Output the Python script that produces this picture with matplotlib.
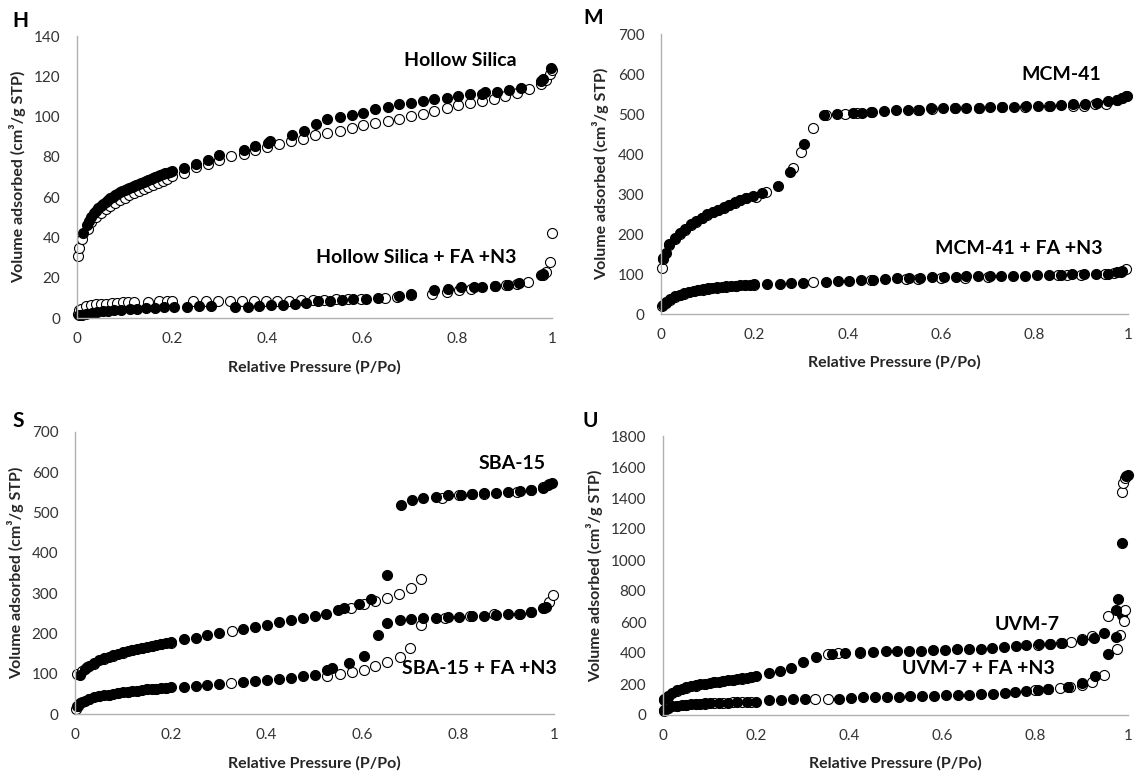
import matplotlib
matplotlib.use("Agg")
import matplotlib.pyplot as plt

plt.rcParams['font.family'] = ['Lato', 'DejaVu Sans']

# ---------------- Panel H : Hollow Silica ----------------
H_top_ads_x = [0.012,0.02,0.025,0.03,0.035,0.04,0.045,0.05,0.055,0.06,0.065,0.07,0.075,0.08,0.085,0.09,0.095,0.10,
               0.105,0.11,0.115,0.12,0.125,0.13,0.135,0.14,0.145,0.15,0.155,0.16,0.165,0.17,0.175,0.18,0.185,0.19,0.195,0.20,
               0.226,0.251,0.276,0.299,0.351,0.375,0.403,0.407,0.452,0.477,0.504,0.527,0.553,0.578,0.603,0.628,0.654,0.678,
               0.703,0.728,0.752,0.778,0.803,0.828,0.852,0.858,0.885,0.91,0.935,0.977,0.981,0.998]
H_top_ads_y = [42,46,48,50,52,53,54.5,55.5,56.5,57.5,58.5,59.5,60,61,61.5,62.5,63,63.5,
               64,64.5,65,65.5,66,66.5,67,67.5,68,68.5,69,69.5,70,70.5,71,71.5,72,72.2,72.5,73,
               74.7,76.7,78.6,80.8,83.3,85.3,87,87.8,91,92.7,96.5,98.7,100,101,102,104,104.8,106,
               106.8,107.6,108.6,109.4,110,111,111.4,112,112.4,113.4,114.4,117.5,118.5,124]
H_top_des_x = [0.0015,0.004,0.011,0.023,0.03,0.04,0.05,0.06,0.07,0.08,0.09,0.10,0.11,0.12,0.13,0.14,0.15,0.16,0.17,0.18,0.19,0.20,
               0.226,0.251,0.276,0.299,0.325,0.351,0.375,0.401,0.426,0.451,0.476,0.502,0.527,0.553,0.578,0.603,0.628,0.654,
               0.678,0.703,0.728,0.752,0.778,0.803,0.828,0.852,0.878,0.902,0.927,0.952,0.976,0.987,0.996,1.0]
H_top_des_y = [30.6,34.8,39,44.4,47.5,50,52,54,55.5,57,58.5,59.5,61,62,63,64,65,66,67,68,69,70.5,
               72,75,76.7,78.3,80.5,81.6,83.6,85,86.6,87.7,89,90.7,91.9,92.9,94.5,95.7,96.9,97.8,
               99,100.3,101.5,102.6,104.5,105.6,106.8,107.8,108.9,110.3,111.8,113.9,116.4,118,121,123]
H_bot_ads_x = [0.004,0.011,0.019,0.031,0.042,0.054,0.065,0.077,0.092,0.111,0.126,0.146,0.165,0.184,0.205,0.231,0.257,0.282,
               0.333,0.359,0.383,0.408,0.434,0.458,0.483,0.508,0.533,0.558,0.582,0.608,0.634,0.677,0.703,0.751,0.782,
               0.808,0.835,0.853,0.88,0.907,0.931,0.977,0.981]
H_bot_ads_y = [1.3,1.3,2.2,2.5,3,3.3,3.5,3.8,4.1,4.6,4.6,5.1,5.1,5.5,5.5,5.5,5.8,5.8,
               5.5,5.5,5.8,6.3,6.3,6.8,7.5,8.3,8.4,8.8,9.3,9.6,9.9,10.9,12.1,13.7,14.6,
               15.4,15.4,15.4,15.9,16.2,17.4,21.2,22]
H_bot_des_x = [0.0015,0.004,0.009,0.019,0.03,0.04,0.05,0.06,0.073,0.084,0.096,0.107,0.121,0.149,0.172,0.19,0.2,0.245,0.272,
               0.297,0.322,0.347,0.372,0.397,0.421,0.447,0.471,0.497,0.521,0.546,0.571,0.598,0.648,0.674,0.703,0.747,
               0.778,0.805,0.83,0.88,0.904,0.927,0.95,0.982,0.988,0.996,1.0]
H_bot_des_y = [2.2,3.8,4.6,5.8,6.3,6.8,7.1,7.1,7.5,7.6,8,8,8,8,8.3,8.3,8.3,8.3,8.3,
               8.3,8.3,8.3,8.3,8.3,8.3,8.3,8.8,9.1,9.1,9.3,9.6,9.6,9.9,10.4,11.3,11.8,
               12.9,13.7,14.6,15.7,16.2,17,17.9,21.2,22.8,27.8,42.4]

# ---------------- Panel M : MCM-41 ----------------
M_top_ads_x = [0.005,0.01,0.017,0.029,0.041,0.052,0.064,0.076,0.087,0.099,0.111,0.122,0.134,0.146,0.158,0.169,0.181,0.197,
               0.216,0.251,0.276,0.306,0.35,0.376,0.411,0.43,0.452,0.477,0.503,0.528,0.553,0.579,0.604,0.63,0.654,0.68,
               0.705,0.731,0.756,0.782,0.807,0.832,0.857,0.883,0.908,0.934,0.957,0.977,0.988,0.998]
M_top_ads_y = [140,153,174,190,203,213,224,232,240,249,255,261,268,273,279,285,291,294,
               302,321,356,425,497,500,503,503,505,507,510,511,511,514,514,515,516,516,
               518,518,518,519,519,519,522,524,524,528,533,536,540,545]
M_top_des_x = [0.002,0.005,0.017,0.029,0.041,0.052,0.064,0.076,0.087,0.099,0.111,0.122,0.134,0.146,0.158,0.169,0.181,0.204,
               0.224,0.282,0.3,0.325,0.353,0.395,0.419,0.45,0.55,0.58,0.63,0.68,0.73,0.78,0.83,0.883,0.906,0.93,
               0.953,0.977,0.988,0.996]
M_top_des_y = [116,137,172,188,201,211,222,231,239,247,254,260,266,272,278,284,289,292,
               304,365,406,466,497,501,503,505,510,512,514,515,517,518,519,521,521,524,
               524,534,540,544]
M_bot_ads_x = [0.005,0.01,0.02,0.03,0.04,0.05,0.06,0.07,0.08,0.09,0.10,0.11,0.12,0.13,0.14,0.15,0.16,0.17,0.18,0.19,0.20,
               0.228,0.254,0.278,0.303,0.353,0.378,0.403,0.428,0.454,0.479,0.505,0.53,0.555,0.58,0.606,0.631,0.653,
               0.678,0.704,0.729,0.754,0.779,0.805,0.83,0.856,0.881,0.906,0.931,0.957,0.977,0.988]
M_bot_ads_y = [22,30,38,44,48,52,55,58,60,62,64,66,67,68,69,70,71,72,72.5,73,74,
               75,76,77,78,80,82,83,84,86,88,89,90,91,92,92,93,94,
               95,95,96,96,96,97,97,98,99,99,100,101,104,108]
M_bot_des_x = [0.003,0.01,0.02,0.03,0.04,0.05,0.06,0.07,0.08,0.09,0.10,0.12,0.14,0.16,0.18,0.20,
               0.326,0.45,0.525,0.55,0.6,0.65,0.7,0.85,0.87,0.9,0.95,0.97,0.985,0.995]
M_bot_des_y = [20,28,36,42,47,51,54,57,59,61,63,66,68,70,72,73,
               80,85,88,88,90,91,93,97,98,98,100,102,106,112]

# ---------------- Panel S : SBA-15 ----------------
S_top_ads_x = [0.01,0.02,0.03,0.04,0.05,0.06,0.07,0.08,0.09,0.10,0.11,0.12,0.13,0.14,0.15,0.16,0.17,0.18,0.19,0.20,
               0.227,0.252,0.276,0.301,0.351,0.375,0.40,0.426,0.451,0.476,0.501,0.525,0.55,0.561,0.592,0.618,0.651,
               0.681,0.703,0.727,0.753,0.779,0.805,0.829,0.854,0.878,0.903,0.928,0.953,0.976,0.987,0.996]
S_top_ads_y = [98,112,120,127,133,138,142,146,150,153,156,159,162,164,166,169,171,174,176,178,
               185,189,195,200,211,216,222,228,233,239,244,249,257,262,272,286,344,
               519,530,535,539,543,544,546,548,549,552,553,556,562,568,574]
S_top_des_x = [0.005,0.015,0.025,0.04,0.06,0.08,0.10,0.12,0.14,0.16,0.18,0.20,0.327,0.576,0.603,0.627,0.652,0.677,0.702,0.722,
               0.767,0.801,0.828,0.853,0.923,0.953,0.978,0.989]
S_top_des_y = [100,106,116,125,136,145,152,158,163,168,173,177,206,263,272,280,288,298,312,336,
               537,543,545,547,551,556,563,570]
S_bot_ads_x = [0.005,0.01,0.02,0.03,0.04,0.05,0.06,0.07,0.08,0.09,0.10,0.11,0.12,0.13,0.14,0.15,0.16,0.17,0.18,0.19,0.20,
               0.227,0.252,0.276,0.301,0.351,0.375,0.40,0.426,0.451,0.476,0.501,0.527,0.536,0.571,0.603,0.632,0.652,
               0.678,0.702,0.727,0.753,0.778,0.802,0.829,0.854,0.878,0.903,0.928,0.953,0.977,0.983]
S_bot_ads_y = [20,27,33,37,41,44,46,48,50,52,54,55,57,58,59,61,62,63,64,65,66,
               68,70,72,75,79,81,84,87,89,94,96,108,114,127,143,197,226,
               234,236,239,239,240,242,243,244,246,248,249,253,262,266]
S_bot_des_x = [0.002,0.006,0.015,0.03,0.05,0.07,0.09,0.11,0.13,0.15,0.17,0.19,0.325,0.527,0.554,0.578,0.603,0.627,0.652,
               0.679,0.70,0.722,0.773,0.824,0.875,0.926,0.951,0.979,0.99,0.997]
S_bot_des_y = [12,21,30,37,44,48,52,55,58,61,63,65,76,95,100,104,110,118,128,
               141,163,222,239,243,247,249,253,263,278,295]

# ---------------- Panel U : UVM-7 ----------------
U_top_ads_x = [0.003,0.01,0.02,0.03,0.04,0.05,0.06,0.07,0.08,0.09,0.10,0.11,0.12,0.13,0.14,0.15,0.16,0.17,0.18,0.19,0.20,
               0.229,0.252,0.276,0.301,0.328,0.364,0.392,0.424,0.452,0.479,0.504,0.53,0.555,0.581,0.606,0.632,0.657,
               0.683,0.708,0.734,0.759,0.781,0.808,0.833,0.857,0.902,0.926,0.949,0.975,0.979,0.987,0.996,1.0]
U_top_ads_y = [102,120,145,160,170,178,185,191,197,202,207,212,216,220,224,228,232,236,240,244,250,
               268,287,302,340,376,393,400,404,408,410,410,414,414,419,421,423,425,
               429,431,436,442,450,457,461,467,484,499,531,680,750,1109,1545,1551]
U_top_des_x = [0.002,0.01,0.03,0.05,0.07,0.09,0.11,0.13,0.15,0.17,0.19,0.354,0.377,0.424,0.806,0.832,0.855,0.877,0.901,0.922,
               0.958,0.992,0.994,0.987,0.99,0.994]
U_top_des_y = [95,118,158,176,189,200,210,218,226,234,242,393,397,400,453,461,467,474,489,510,
               637,606,680,1438,1498,1530]
U_bot_ads_x = [0.003,0.01,0.02,0.03,0.04,0.05,0.06,0.07,0.08,0.09,0.10,0.12,0.14,0.16,0.18,0.20,
               0.229,0.254,0.28,0.305,0.379,0.405,0.43,0.456,0.481,0.507,0.532,0.558,0.583,0.608,0.634,0.659,
               0.684,0.71,0.735,0.757,0.781,0.806,0.829,0.872,0.901,0.928,0.957,0.975,0.988]
U_bot_ads_y = [32,45,55,60,64,67,69,71,73,75,76,78,80,82,84,86,
               96,100,102,102,106,110,113,115,117,119,121,123,125,128,130,132,
               134,138,142,147,155,164,170,181,208,249,393,504,648]
U_bot_des_x = [0.002,0.01,0.03,0.05,0.07,0.09,0.11,0.13,0.15,0.17,0.19,0.327,0.354,0.80,0.828,0.853,0.876,0.901,0.923,0.948,
               0.976,0.983]
U_bot_des_y = [25,43,58,66,70,74,77,79,81,83,85,102,102,159,170,176,181,191,212,261,
               425,514]

# ---------------- labels ----------------
x_title = "Relative Pressure (P/Po)"
y_title = "Volume adsorbed (cm³/g STP)"
x_ticks = [0, 0.2, 0.4, 0.6, 0.8, 1]
x_ticklabels = ["0", "0.2", "0.4", "0.6", "0.8", "1"]

panels = [
    dict(letter="H", rect=[77, 36, 552, 318], ymax=140, ystep=20,
         series=[(H_bot_des_x, H_bot_des_y, False), (H_bot_ads_x, H_bot_ads_y, True),
                 (H_top_des_x, H_top_des_y, False), (H_top_ads_x, H_top_ads_y, True)],
         names=[("Hollow Silica", 0.926, 128), ("Hollow Silica + FA +N3", 0.926, 30)],
         letter_xy=(20, 21), ylab_x=-0.107),
    dict(letter="M", rect=[661, 34, 1128, 314], ymax=700, ystep=100,
         series=[(M_bot_des_x, M_bot_des_y, False), (M_bot_ads_x, M_bot_ads_y, True),
                 (M_top_des_x, M_top_des_y, False), (M_top_ads_x, M_top_ads_y, True)],
         names=[("MCM-41", 0.943, 600), ("MCM-41 + FA +N3", 0.945, 163)],
         letter_xy=(593, 18), ylab_x=-0.111),
    dict(letter="S", rect=[75, 432, 554, 714], ymax=700, ystep=100,
         series=[(S_bot_des_x, S_bot_des_y, False), (S_bot_ads_x, S_bot_ads_y, True),
                 (S_top_des_x, S_top_des_y, False), (S_top_ads_x, S_top_ads_y, True)],
         names=[("SBA-15", 0.983, 622), ("SBA-15 + FA +N3", 1.005, 112)],
         letter_xy=(18, 421), ylab_x=-0.106),
    dict(letter="U", rect=[663, 436, 1128, 715], ymax=1800, ystep=200,
         series=[(U_bot_des_x, U_bot_des_y, False), (U_bot_ads_x, U_bot_ads_y, True),
                 (U_top_des_x, U_top_des_y, False), (U_top_ads_x, U_top_ads_y, True)],
         names=[("UVM-7", 0.853, 585), ("UVM-7 + FA +N3", 0.843, 297)],
         letter_xy=(590, 421), ylab_x=-0.129),
]

W, H = 1135, 782
fig = plt.figure(figsize=(W / 100, H / 100), dpi=100)

for p in panels:
    l, t, r, b = p["rect"]
    ax = fig.add_axes([l / W, 1 - b / H, (r - l) / W, (b - t) / H])
    for xs, ys, filled in p["series"]:
        ax.plot(xs, ys, linestyle="none", marker="o", ms=7.2, mew=0.8,
                mec="black", mfc="black" if filled else "white", clip_on=False)
    ax.set_xlim(0, 1)
    ax.set_ylim(0, p["ymax"])
    ax.set_xticks(x_ticks)
    ax.set_xticklabels(x_ticklabels)
    ax.set_yticks(list(range(0, p["ymax"] + 1, p["ystep"])))
    for s in ["top", "right"]:
        ax.spines[s].set_visible(False)
    for s in ["left", "bottom"]:
        ax.spines[s].set_color("#b0b0b0")
        ax.spines[s].set_linewidth(1.0)
    ax.tick_params(axis="both", length=0, labelsize=11, labelcolor="#333333")
    ax.tick_params(axis="y", pad=12)
    ax.tick_params(axis="x", pad=10)
    ax.set_xlabel(x_title, fontsize=11.5, fontweight="bold", color="#262626")
    ax.xaxis.set_label_coords(0.5, -0.148)
    ax.set_ylabel(y_title, fontsize=11.5, fontweight="bold", color="#262626")
    ax.yaxis.set_label_coords(p["ylab_x"], 0.5)
    for txt, tx, ty in p["names"]:
        ax.text(tx, ty, txt, ha="right", va="center", fontsize=14, fontweight="bold", color="black")
    fig.text(p["letter_xy"][0] / W, 1 - p["letter_xy"][1] / H, p["letter"], ha="center", va="center",
             fontsize=15, fontweight="bold", color="black")

fig.savefig("out.png", dpi=100)
